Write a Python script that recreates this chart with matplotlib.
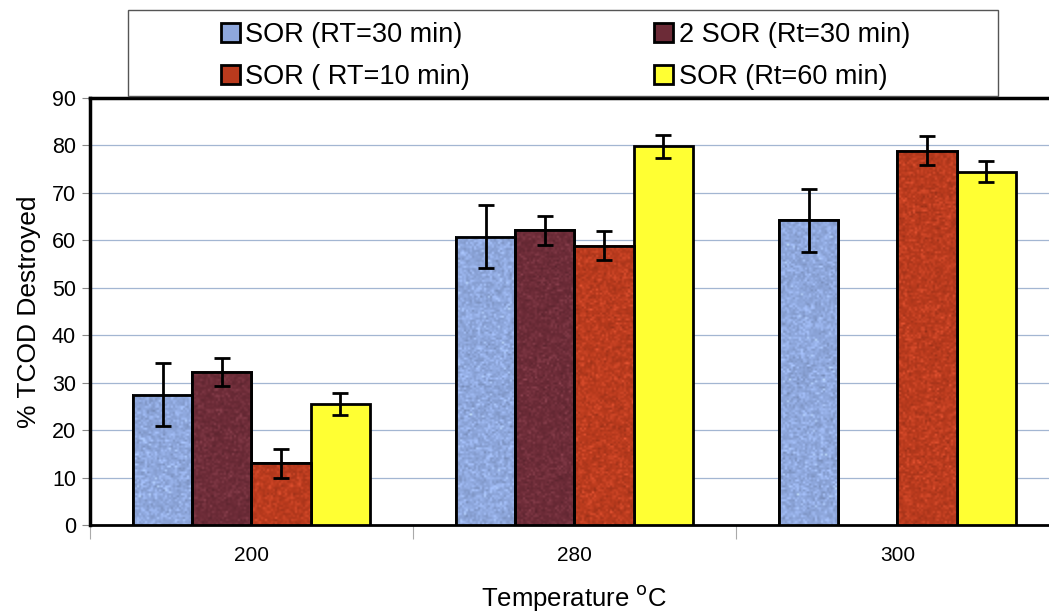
import numpy as np
import matplotlib
matplotlib.use("Agg")
import matplotlib.pyplot as plt
from matplotlib.patches import Rectangle

plt.rcParams['font.family'] = ['Liberation Sans', 'DejaVu Sans']

# temperatures and % TCOD destroyed for each run
temps = ['200', '280', '300']
series = ['SOR (RT=30 min)', '2 SOR (Rt=30 min)', 'SOR ( RT=10 min)', 'SOR (Rt=60 min)']
sor_rt30 = [27.5, 60.8, 64.2]
sor2_rt30 = [32.3, 62.1, np.nan]
sor_rt10 = [13.0, 58.9, 78.9]
sor_rt60 = [25.5, 79.8, 74.5]
err_rt30 = [6.6, 6.6, 6.6]
err2_rt30 = [3.0, 3.0, np.nan]
err_rt10 = [3.0, 3.0, 3.0]
err_rt60 = [2.3, 2.4, 2.3]

colors = ['#8ea7dc', '#6c2b37', '#b93a1d', '#ffff33']
grainy = [True, True, True, False]
values = [sor_rt30, sor2_rt30, sor_rt10, sor_rt60]
errors = [err_rt30, err2_rt30, err_rt10, err_rt60]

fig = plt.figure(figsize=(10.49, 6.16), dpi=100)
ax = fig.add_axes([0.0858, 0.1477, 0.9237, 0.6932])

rng = np.random.default_rng(7)
x = np.arange(len(temps))
w = 0.183
handles = []
for i in range(4):
    pos = x + (i - 1.5) * w
    b = ax.bar(pos, values[i], w, color=colors[i], edgecolor='black',
               linewidth=2, zorder=3)
    if grainy[i]:
        # speckled fill painted over each bar, outline drawn again on top
        base = np.array(matplotlib.colors.to_rgb(colors[i]))
        for r in b.patches:
            h = r.get_height()
            if not np.isfinite(h) or h <= 0:
                continue
            n = rng.normal(0, 0.06, size=(int(h * 2.4), 30, 1))
            img = np.clip(base * (1 + n) + 0.4 * np.clip(n, 0, None), 0, 1)
            ax.imshow(img, extent=(r.get_x(), r.get_x() + w, 0, h), aspect='auto',
                      interpolation='bilinear', zorder=3.5)
        ax.bar(pos, values[i], w, facecolor='none', edgecolor='black',
               linewidth=2, zorder=3.8)
    ax.errorbar(pos, values[i], yerr=errors[i], fmt='none', ecolor='black',
                elinewidth=2, capsize=6, capthick=2, zorder=4)
    handles.append(b)

ax.set_xlim(-0.5, 2.5)
ax.set_ylim(0, 90)
ax.set_yticks(range(0, 91, 10))
ax.yaxis.grid(True, color='#a3b6d2', linewidth=0.9, zorder=0)
ax.set_axisbelow(True)

ax.set_xticks(x)
ax.set_xticklabels(temps, fontsize=15)
ax.set_xticks([-0.5, 0.5, 1.5], minor=True)
ax.tick_params(axis='x', which='major', length=0, pad=15)
ax.tick_params(axis='x', which='minor', length=10, color='#aaaaaa', width=0.8)
ax.tick_params(axis='y', length=6, width=0.8, color='#888888', labelsize=15.5, pad=4)

for s in ['left', 'top']:
    ax.spines[s].set_linewidth(2.5)
ax.spines['bottom'].set_linewidth(2)
ax.spines['right'].set_visible(False)

ax.set_ylabel('% TCOD Destroyed', fontsize=19, labelpad=8)
ax.set_xlabel('Temperature $^{\\mathrm{o}}$C', fontsize=18.5, labelpad=13)

# legend box above the plot
fig.patches.append(Rectangle((0.122, 0.844), 0.829, 0.140, transform=fig.transFigure,
                             facecolor='white', edgecolor='#555555', linewidth=1, zorder=5))
order = [0, 2, 1, 3]
leg = fig.legend([handles[k] for k in order], [series[k] for k in order],
                 loc='center', bbox_to_anchor=(0.539, 0.909), ncol=2, frameon=False,
                 fontsize=19.5, handlelength=0.7, handleheight=0.7, handletextpad=0.2,
                 columnspacing=6.8, labelspacing=0.58)
leg.set_zorder(6)

fig.savefig('out.png', dpi=100)
